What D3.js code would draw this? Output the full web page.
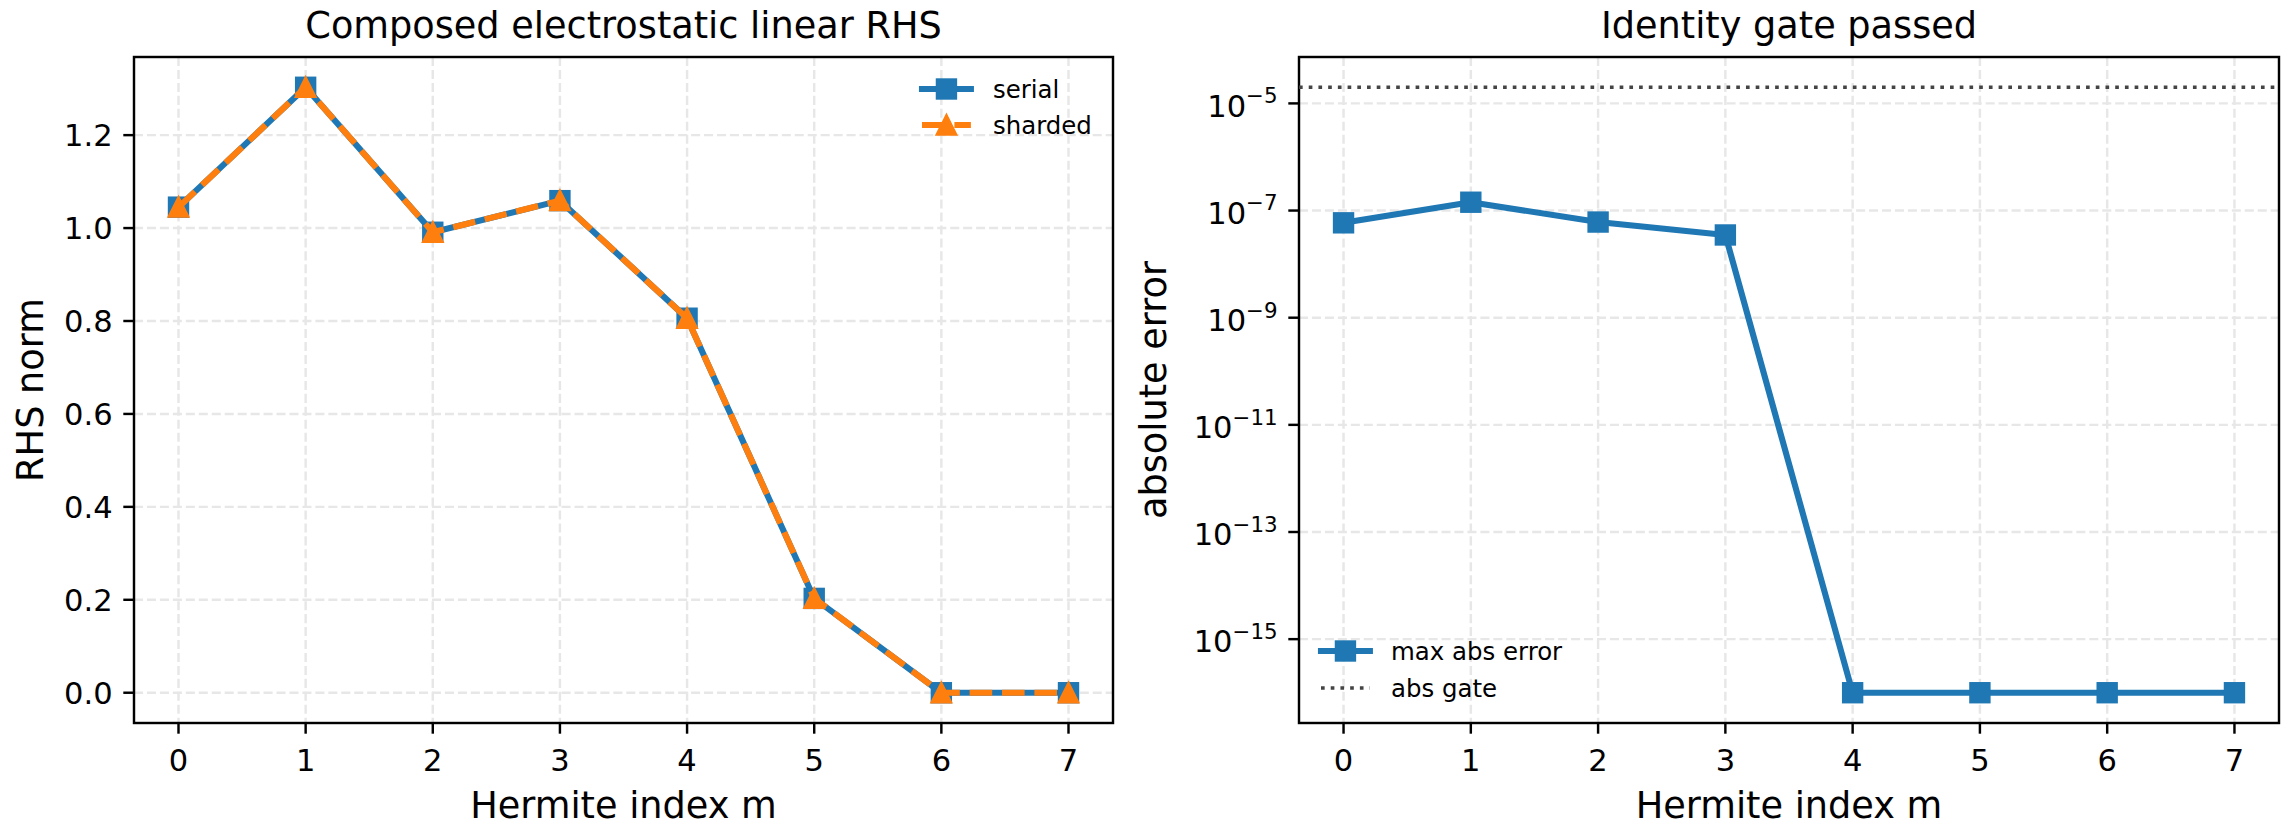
<!DOCTYPE html>
<html>
<head>
<meta charset="utf-8">
<script src="https://cdn.jsdelivr.net/npm/d3@7"></script>
<style>
  html, body { margin: 0; padding: 0; background: #ffffff; }
  svg { display: block; font-family: "DejaVu Sans", sans-serif; }
</style>
</head>
<body>
<svg id="chart" width="2288" height="836"></svg>
<script>
// ---------------- data ----------------
const hermiteIndex = [0, 1, 2, 3, 4, 5, 6, 7];
const serialNorm   = [1.045, 1.303, 0.991, 1.059, 0.806, 0.203, 0.0, 0.0];
const shardedNorm  = [1.045, 1.303, 0.991, 1.059, 0.806, 0.203, 0.0, 0.0];
const maxAbsError  = [5.9e-8, 1.43e-7, 6.1e-8, 3.5e-8, 1e-16, 1e-16, 1e-16, 1e-16];
const absGate      = 2e-5;
const leftYTicks   = [0.0, 0.2, 0.4, 0.6, 0.8, 1.0, 1.2];
const rightYExps   = [-15, -13, -11, -9, -7, -5];
const titles       = ["Composed electrostatic linear RHS", "Identity gate passed"];
const xLabel       = "Hermite index m";
const yLabels      = ["RHS norm", "absolute error"];
const legendLeft   = ["serial", "sharded"];
const legendRight  = ["max abs error", "abs gate"];

// ---------------- style ----------------
const PT = 220 / 72;
const BLUE = "#1f77b4", ORANGE = "#ff7f0e";
const GRID = "#e7e7e7";
const TICK_FS = 10 * PT, LABEL_FS = 12 * PT, LEG_FS = 8 * PT;
const LW = 2 * PT, MS = 6 * PT, MEW = 1 * PT;
const TICKLEN = 3.5 * PT, PAD = 3.5 * PT;

const svg = d3.select("#chart");
svg.append("rect").attr("width", 2288).attr("height", 836).attr("fill", "#fff");

const panels = [
  { x0: 134, x1: 1113, y0: 57, y1: 723 },
  { x0: 1299, x1: 2279, y0: 57, y1: 723 }
];

function xScaleFor(p) {
  const lo = d3.min(hermiteIndex), hi = d3.max(hermiteIndex), m = 0.05 * (hi - lo);
  return d3.scaleLinear().domain([lo - m, hi + m]).range([p.x0, p.x1]);
}

function drawSquare(g, x, y, color) {
  const s = MS + MEW;
  g.append("rect").attr("x", x - s / 2).attr("y", y - s / 2)
    .attr("width", s).attr("height", s).attr("fill", color);
}
function drawTriangle(g, x, y, color) {
  const h = MS / 2;
  const pts = [[x, y - h], [x - h, y + h], [x + h, y + h]];
  g.append("path").attr("d", "M" + pts.map(p => p.join(",")).join("L") + "Z")
    .attr("fill", color).attr("stroke", color).attr("stroke-width", MEW)
    .attr("stroke-linejoin", "miter");
}

function drawFrame(g, p, x) {
  // x grid
  hermiteIndex.forEach(v => {
    g.append("line").attr("x1", x(v)).attr("x2", x(v)).attr("y1", p.y0).attr("y2", p.y1)
      .attr("stroke", GRID).attr("stroke-width", 0.8 * PT)
      .attr("stroke-dasharray", `${3.7 * 0.8 * PT},${1.6 * 0.8 * PT}`);
  });
}

function drawAxesCommon(g, p, x, title) {
  // x ticks
  hermiteIndex.forEach(v => {
    g.append("line").attr("x1", x(v)).attr("x2", x(v)).attr("y1", p.y1).attr("y2", p.y1 + TICKLEN)
      .attr("stroke", "#000").attr("stroke-width", 0.8 * PT);
    g.append("text").attr("x", x(v)).attr("y", 770.5).attr("text-anchor", "middle")
      .attr("font-size", TICK_FS).attr("fill", "#000").text(d3.format("d")(v));
  });
  // spines
  g.append("rect").attr("x", p.x0).attr("y", p.y0).attr("width", p.x1 - p.x0).attr("height", p.y1 - p.y0)
    .attr("fill", "none").attr("stroke", "#000").attr("stroke-width", 0.8 * PT);
  // title & xlabel
  g.append("text").attr("x", (p.x0 + p.x1) / 2).attr("y", 38).attr("text-anchor", "middle")
    .attr("font-size", LABEL_FS).attr("fill", "#000").text(title);
  g.append("text").attr("x", (p.x0 + p.x1) / 2).attr("y", 818).attr("text-anchor", "middle")
    .attr("font-size", LABEL_FS).attr("fill", "#000").text(xLabel);
}

// ---------------- left panel ----------------
{
  const p = panels[0];
  const g = svg.append("g");
  const x = xScaleFor(p);
  const all = serialNorm.concat(shardedNorm);
  const lo = d3.min(all), hi = d3.max(all), m = 0.05 * (hi - lo);
  const y = d3.scaleLinear().domain([lo - m, hi + m]).range([p.y1, p.y0]);

  const clip = svg.append("clipPath").attr("id", "clipL");
  clip.append("rect").attr("x", p.x0).attr("y", p.y0).attr("width", p.x1 - p.x0).attr("height", p.y1 - p.y0);

  drawFrame(g, p, x);
  leftYTicks.forEach(v => {
    g.append("line").attr("x1", p.x0).attr("x2", p.x1).attr("y1", y(v)).attr("y2", y(v))
      .attr("stroke", GRID).attr("stroke-width", 0.8 * PT)
      .attr("stroke-dasharray", `${3.7 * 0.8 * PT},${1.6 * 0.8 * PT}`);
    g.append("line").attr("x1", p.x0 - TICKLEN).attr("x2", p.x0).attr("y1", y(v)).attr("y2", y(v))
      .attr("stroke", "#000").attr("stroke-width", 0.8 * PT);
    g.append("text").attr("x", p.x0 - TICKLEN - PAD).attr("y", y(v) + 11).attr("text-anchor", "end")
      .attr("font-size", TICK_FS).attr("fill", "#000").text(d3.format(".1f")(v));
  });

  const line = d3.line().x((d, i) => x(hermiteIndex[i])).y(d => y(d));
  const data = svg.append("g");
  data.append("path").attr("d", line(serialNorm)).attr("fill", "none").attr("stroke", BLUE)
    .attr("stroke-width", LW).attr("stroke-linejoin", "round").attr("stroke-linecap", "square");
  serialNorm.forEach((v, i) => drawSquare(data, x(hermiteIndex[i]), y(v), BLUE));
  data.append("path").attr("d", line(shardedNorm)).attr("fill", "none").attr("stroke", ORANGE)
    .attr("stroke-width", LW).attr("stroke-linejoin", "round").attr("stroke-linecap", "butt")
    .attr("stroke-dasharray", `${3.7 * LW},${1.6 * LW}`);
  shardedNorm.forEach((v, i) => drawTriangle(data, x(hermiteIndex[i]), y(v), ORANGE));

  drawAxesCommon(g.append("g"), p, x, titles[0]);
  svg.append("text").attr("transform", `translate(43,${(p.y0 + p.y1) / 2}) rotate(-90)`)
    .attr("text-anchor", "middle").attr("font-size", LABEL_FS).attr("fill", "#000").text(yLabels[0]);

  // legend
  const lg = svg.append("g");
  const hx0 = 922, hx1 = 922 + 2 * LEG_FS * 72 / 220 * PT, hc = (hx0 + hx1) / 2;
  const rows = [89, 125];
  lg.append("line").attr("x1", hx0).attr("x2", hx1).attr("y1", rows[0]).attr("y2", rows[0])
    .attr("stroke", BLUE).attr("stroke-width", LW).attr("stroke-linecap", "square");
  drawSquare(lg, hc, rows[0], BLUE);
  lg.append("line").attr("x1", hx0).attr("x2", hx1).attr("y1", rows[1]).attr("y2", rows[1])
    .attr("stroke", ORANGE).attr("stroke-width", LW).attr("stroke-linecap", "butt")
    .attr("stroke-dasharray", `${3.7 * LW},${1.6 * LW}`);
  drawTriangle(lg, hc, rows[1], ORANGE);
  legendLeft.forEach((t, i) => {
    lg.append("text").attr("x", 993).attr("y", rows[i] + 9).attr("font-size", LEG_FS)
      .attr("fill", "#000").text(t);
  });
}

// ---------------- right panel ----------------
{
  const p = panels[1];
  const g = svg.append("g");
  const x = xScaleFor(p);
  const logs = maxAbsError.map(v => Math.log10(v)).concat([Math.log10(absGate)]);
  const lo = d3.min(logs), hi = d3.max(logs), m = 0.05 * (hi - lo);
  const y = d3.scaleLog().domain([Math.pow(10, lo - m), Math.pow(10, hi + m)]).range([p.y1, p.y0]);

  drawFrame(g, p, x);
  rightYExps.forEach(e => {
    const v = Math.pow(10, e);
    g.append("line").attr("x1", p.x0).attr("x2", p.x1).attr("y1", y(v)).attr("y2", y(v))
      .attr("stroke", GRID).attr("stroke-width", 0.8 * PT)
      .attr("stroke-dasharray", `${3.7 * 0.8 * PT},${1.6 * 0.8 * PT}`);
    g.append("line").attr("x1", p.x0 - TICKLEN).attr("x2", p.x0).attr("y1", y(v)).attr("y2", y(v))
      .attr("stroke", "#000").attr("stroke-width", 0.8 * PT);
    const t = g.append("text").attr("x", p.x0 - TICKLEN - PAD).attr("y", y(v) + 13.3)
      .attr("text-anchor", "end").attr("font-size", TICK_FS).attr("fill", "#000");
    t.append("tspan").text("10");
    t.append("tspan").attr("dy", -13.5).attr("font-size", 0.7 * TICK_FS).text("\u2212" + Math.abs(e));
  });

  const data = svg.append("g");
  const line = d3.line().x((d, i) => x(hermiteIndex[i])).y(d => y(d));
  data.append("path").attr("d", line(maxAbsError)).attr("fill", "none").attr("stroke", BLUE)
    .attr("stroke-width", LW).attr("stroke-linejoin", "round").attr("stroke-linecap", "square");
  maxAbsError.forEach((v, i) => drawSquare(data, x(hermiteIndex[i]), y(v), BLUE));
  data.append("line").attr("x1", p.x0).attr("x2", p.x1).attr("y1", y(absGate)).attr("y2", y(absGate))
    .attr("stroke", "#444444").attr("stroke-width", 1.2 * PT)
    .attr("stroke-dasharray", `${1.2 * PT},${1.65 * 1.2 * PT}`);

  drawAxesCommon(g.append("g"), p, x, titles[1]);
  svg.append("text").attr("transform", `translate(1166,${(p.y0 + p.y1) / 2}) rotate(-90)`)
    .attr("text-anchor", "middle").attr("font-size", LABEL_FS).attr("fill", "#000").text(yLabels[1]);

  // legend
  const lg = svg.append("g");
  const hx0 = 1321, hx1 = 1321 + 2 * LEG_FS, hc = (hx0 + hx1) / 2;
  const rows = [651, 688];
  lg.append("line").attr("x1", hx0).attr("x2", hx1).attr("y1", rows[0]).attr("y2", rows[0])
    .attr("stroke", BLUE).attr("stroke-width", LW).attr("stroke-linecap", "square");
  drawSquare(lg, hc, rows[0], BLUE);
  lg.append("line").attr("x1", hx0).attr("x2", hx1).attr("y1", rows[1]).attr("y2", rows[1])
    .attr("stroke", "#444444").attr("stroke-width", 1.2 * PT)
    .attr("stroke-dasharray", `${1.2 * PT},${1.65 * 1.2 * PT}`);
  legendRight.forEach((t, i) => {
    lg.append("text").attr("x", 1391).attr("y", rows[i] + 9).attr("font-size", LEG_FS)
      .attr("fill", "#000").text(t);
  });
}
</script>
</body>
</html>
